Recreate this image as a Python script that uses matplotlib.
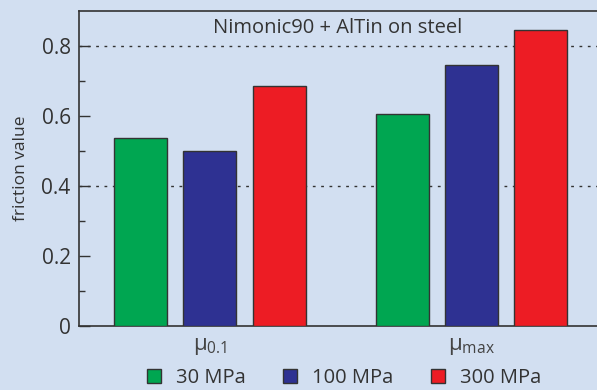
import matplotlib
matplotlib.use('Agg')
import matplotlib.pyplot as plt
from matplotlib.patches import Patch
import numpy as np

plt.rcParams['font.family'] = ['Open Sans', 'DejaVu Sans']
plt.rcParams['mathtext.fontset'] = 'custom'
plt.rcParams['mathtext.rm'] = 'Open Sans'
plt.rcParams['mathtext.it'] = 'Open Sans'

groups = [r'$\mathregular{\mu_{0.1}}$', r'$\mathregular{\mu_{max}}$']
pressures = ['30 MPa', '100 MPa', '300 MPa']
mpa_30 = [0.538, 0.607]
mpa_100 = [0.499, 0.746]
mpa_300 = [0.687, 0.846]

colors = ['#00a651', '#2e3192', '#ed1c24']
bg = '#d2dff1'

fig = plt.figure(figsize=(5.97, 3.90), dpi=100, facecolor=bg)
ax = fig.add_axes([79 / 597, 1 - 326 / 390, 1 - 79 / 597, (326 - 11) / 390])
ax.set_facecolor(bg)

x = np.arange(len(groups))
width = 0.203
step = 0.265
for i, (vals, c) in enumerate(zip([mpa_30, mpa_100, mpa_300], colors)):
    ax.bar(x + (i - 1) * step, vals, width, color=c, edgecolor='#333333',
           linewidth=1.0, zorder=3)

ax.set_xlim(-0.5, 1.48)
ax.set_ylim(0, 0.9)
ax.set_yticks([0, 0.2, 0.4, 0.6, 0.8])
ax.set_yticklabels(['0', '0.2', '0.4', '0.6', '0.8'])
ax.set_yticks([0.1, 0.3, 0.5, 0.7], minor=True)
ax.set_xticks(x)
ax.set_xticklabels(groups)
ax.tick_params(axis='y', which='major', direction='in', length=8, width=1,
               labelsize=15, colors='#333333', pad=6)
ax.tick_params(axis='y', which='minor', direction='in', length=4, width=1,
               colors='#333333')
ax.tick_params(axis='x', length=0, labelsize=16, labelcolor='#444444', pad=7)

for y in [0.4, 0.8]:
    ax.axhline(y, color='#333333', linestyle=(0, (2, 4)), linewidth=1, zorder=1)

ax.spines['right'].set_visible(False)
for s in ['left', 'top', 'bottom']:
    ax.spines[s].set_color('#333333')
    ax.spines[s].set_linewidth(1.2)

ax.set_ylabel('friction value', fontsize=12.5, color='#333333', labelpad=9)
ax.text(0.5, 0.945, 'Nimonic90 + AlTin on steel', transform=ax.transAxes,
        ha='center', va='center', fontsize=14.5, color='#333333')

handles = [Patch(facecolor=c, edgecolor='#333333', linewidth=1) for c in colors]
fig.legend(handles, pressures, loc='center', bbox_to_anchor=(344 / 597, 1 - 378 / 390),
           ncol=3, frameon=False, fontsize=14.5, handlelength=0.7, handleheight=0.7,
           columnspacing=1.85, handletextpad=0.75, labelcolor='#333333')

fig.savefig('out.png', dpi=100, facecolor=bg)
